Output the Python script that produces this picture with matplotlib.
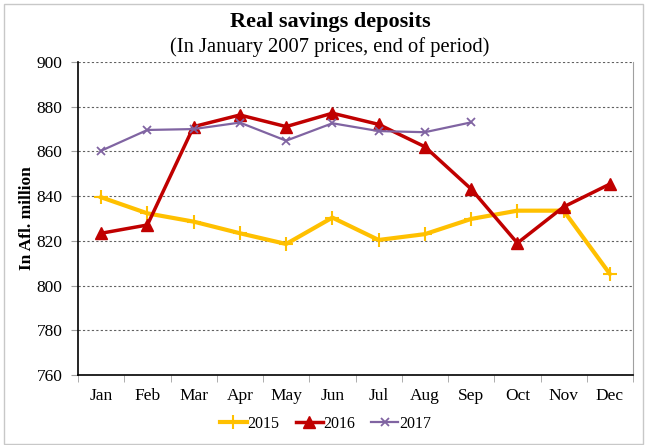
import matplotlib.pyplot as plt
from matplotlib.patches import Rectangle
import numpy as np

plt.rcParams['font.family'] = ['Liberation Serif', 'DejaVu Serif']

months = ['Jan', 'Feb', 'Mar', 'Apr', 'May', 'Jun', 'Jul', 'Aug', 'Sep', 'Oct', 'Nov', 'Dec']
y2015 = [839.5, 832.3, 828.6, 823.4, 818.6, 830.4, 820.4, 823.0, 829.8, 833.5, 833.5, 805.2]
y2016 = [823.4, 827.1, 871.1, 876.3, 871.1, 877.1, 872.1, 862.1, 843.2, 819.0, 835.2, 845.4]
y2017 = [860.3, 869.6, 870.0, 872.9, 864.8, 872.6, 869.1, 868.6, 873.0]

fig = plt.figure(figsize=(6.47, 4.45), dpi=100)
ax = fig.add_axes([78 / 647, 1 - 375 / 445, 555 / 647, 313 / 445])

# light chart border
fig.patches.append(Rectangle((4 / 647, 1 / 445), 639 / 647, 440 / 445, transform=fig.transFigure,
                             fill=False, edgecolor='#c8c8c8', linewidth=1))

x = np.arange(len(months))
ax.plot(x, y2015, color='#FFC000', lw=3, marker='+', ms=10, mew=1.5, label='2015', zorder=3)
ax.plot(x, y2016, color='#C00000', lw=2.5, marker='^', ms=8, label='2016', zorder=4)
ax.plot(x[:len(y2017)], y2017, color='#8064A2', lw=1.6, marker='x', ms=6, mew=1.3, label='2017', zorder=5)

ax.set_xlim(-0.5, 11.5)
ax.set_ylim(760, 900)
ax.set_yticks(np.arange(760, 901, 20))
ax.set_xticks(x)
ax.set_xticklabels(months)
ax.set_xticks(np.arange(-0.5, 12, 1), minor=True)
ax.tick_params(axis='x', which='major', length=0, labelsize=12.5, pad=9)
ax.tick_params(axis='x', which='minor', length=5, color='#a0a0a0', direction='out')
ax.tick_params(axis='y', length=5, color='#a0a0a0', labelsize=12.5, pad=6)

ax.yaxis.grid(True, linestyle=(0, (2, 2)), color='#606060', linewidth=0.8)
ax.set_axisbelow(True)
ax.spines['top'].set_visible(False)
ax.spines['right'].set_color('#a0a0a0')
ax.spines['left'].set_linewidth(1.2)
ax.spines['bottom'].set_linewidth(1.2)

ax.set_ylabel('In Afl. million', fontsize=12.5, fontweight='bold', labelpad=1)

fig.text(0.51, 1 - 22 / 445, 'Real savings deposits', ha='center', va='center',
         fontsize=16, fontweight='bold')
fig.text(0.51, 1 - 47 / 445, '(In January 2007 prices, end of period)', ha='center', va='center',
         fontsize=14.8)

fig.legend(loc='center', bbox_to_anchor=(0.503, 1 - 424 / 445), ncol=3, frameon=False,
           fontsize=11.5, handlelength=1.7, handletextpad=0.05, columnspacing=1.0)

fig.savefig('out.png', dpi=100)
